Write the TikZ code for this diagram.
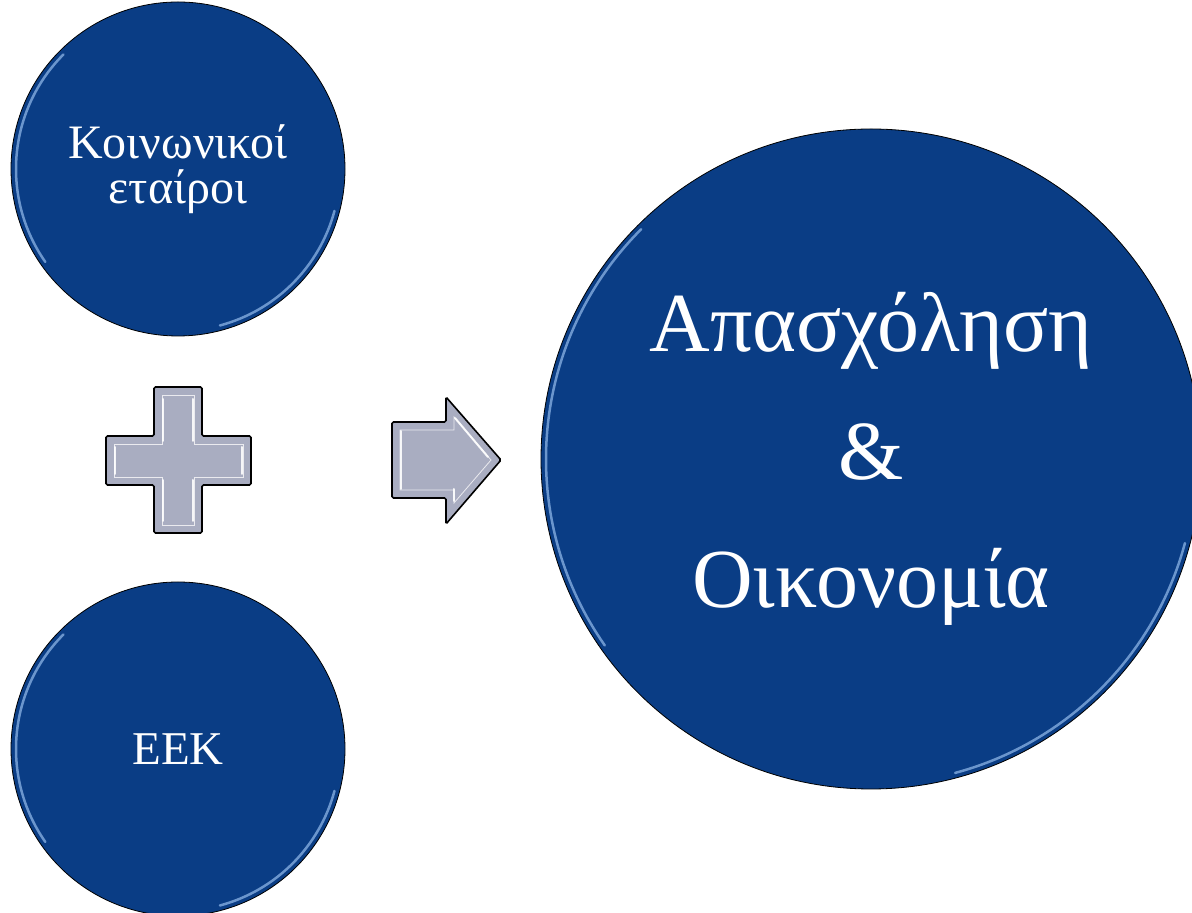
\documentclass[tikz,border=0pt]{standalone}
\usepackage{fontspec}
\setmainfont{Liberation Serif}
\definecolor{discblue}{RGB}{10,61,133}
\definecolor{rimblue}{RGB}{140,180,230}
\definecolor{bevelgray}{RGB}{169,173,193}
\begin{document}
\begin{tikzpicture}[
  x=1pt, y=1pt,
  disc/.style={circle, draw=black, line width=0.8pt, fill=discblue, text=white, align=center, inner sep=0pt},
  rim/.style={draw=rimblue, line width=2.5pt, opacity=0.75, line cap=round},
  bevel/.style={fill=bevelgray, draw=black, line width=1.6pt, rounded corners=1.5pt},
  inset/.style={draw=white!75!bevelgray, line width=0.8pt},
  shine/.style={draw=white, line width=2pt, opacity=0.9, line cap=round}
]
\useasboundingbox (0,0) rectangle (1192,913);

% the three discs
\node[disc, minimum size=334pt, font=\fontsize{48}{45}\selectfont] (social) at (178,744) {Κοινωνικοί\\εταίροι};
\node[disc, minimum size=334pt, font=\fontsize{47}{45}\selectfont] (eek) at (178,164) {ΕΕΚ};
\node[disc, minimum size=660pt, font=\fontsize{84}{128}\selectfont] (outcome) at (871,454) {Απασχόληση\\\&\\Οικονομία};

% rim highlights
\foreach \d/\r in {social/162, eek/162, outcome/325} {
  \draw[rim] (\d.center) ++(135:\r) arc[start angle=135, end angle=215, radius=\r];
  \draw[rim] (\d.center) ++(-75:\r) arc[start angle=-75, end angle=-15, radius=\r];
}

% plus sign
\draw[bevel] (154,526) -- (202,526) -- (202,477) -- (251,477) -- (251,428) -- (202,428)
  -- (202,380) -- (154,380) -- (154,428) -- (106,428) -- (106,477) -- (154,477) -- cycle;
\draw[inset] (162,518) -- (194,518) -- (194,469) -- (243,469) -- (243,436) -- (194,436)
  -- (194,388) -- (162,388) -- (162,436) -- (114,436) -- (114,469) -- (162,469) -- cycle;
\draw[shine] (163,514) -- (163,472);
\draw[shine] (193,514) -- (193,472);
\draw[shine] (163,433) -- (163,392);
\draw[shine] (193,433) -- (193,392);
\draw[shine] (242,466) -- (242,439);
\draw[shine] (115,466) -- (115,439);

% arrow
\draw[bevel] (392,415) -- (446,415) -- (446,389) -- (501,453) -- (446,516) -- (446,491)
  -- (392,491) -- cycle;
\draw[inset] (400,423) -- (454,423) -- (454,410) -- (491,453) -- (454,496) -- (454,483)
  -- (400,483) -- cycle;
\draw[shine] (401,482) -- (401,424);
\draw[shine] (455,495) -- (488,456);
\draw[shine] (454,424) -- (454,412);
\end{tikzpicture}
\end{document}
